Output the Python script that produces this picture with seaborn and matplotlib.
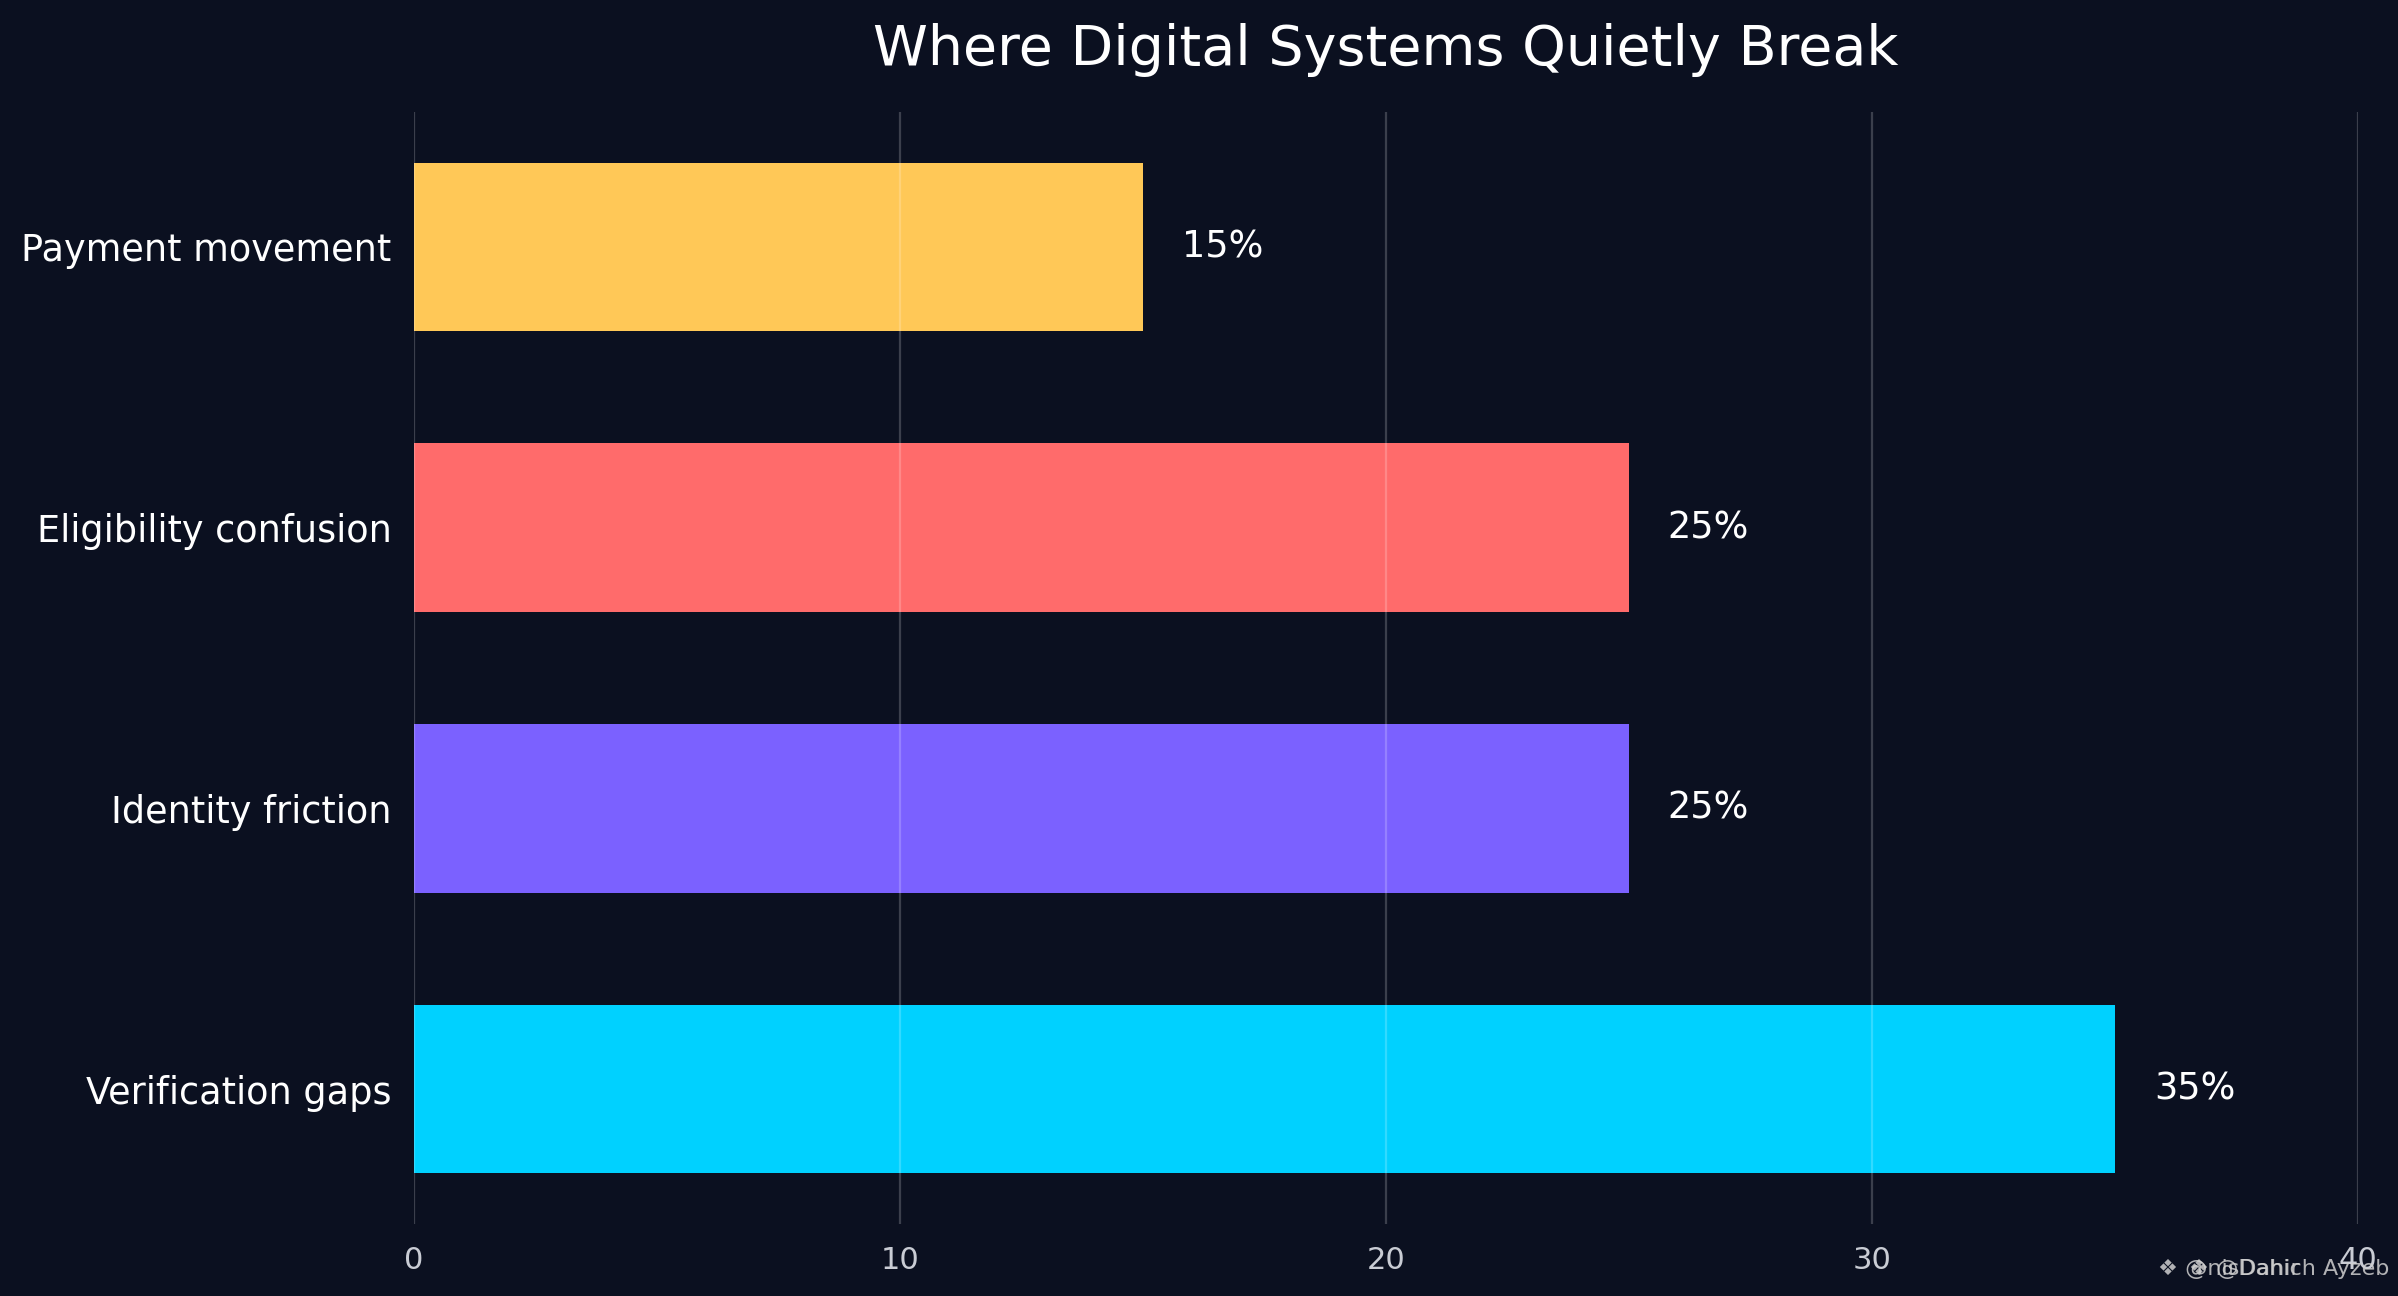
import pandas as pd
import seaborn as sns
import matplotlib.pyplot as plt

categories = ["Payment movement", "Eligibility confusion", "Identity friction", "Verification gaps"]
shares = [15, 25, 25, 35]
colors = ["#FFC857", "#FF6B6B", "#7B61FF", "#00D1FF"]
xticks = [0, 10, 20, 30, 40]

bg = "#0b1020"
df = pd.DataFrame({"category": categories, "share": shares})

sns.set_theme(style="dark")
plt.rcParams["font.family"] = ["DejaVu Sans"]

fig, ax = plt.subplots(figsize=(11.99, 6.48), dpi=200)
fig.patch.set_facecolor(bg)
ax.set_facecolor(bg)
fig.subplots_adjust(left=0.1726, right=0.9833, top=0.9136, bottom=0.0556)

sns.barplot(data=df, x="share", y="category", hue="category", palette=colors,
            order=categories, hue_order=categories, width=0.6, saturation=1,
            linewidth=0, edgecolor="none", legend=False, ax=ax)

for i, v in enumerate(shares):
    ax.text(v + 0.8, i, f"{v}%", va="center", ha="left", color="white", fontsize=13.2)

ax.set_xlim(0, 40)
ax.set_ylim(3.48, -0.48)
ax.set_xticks(xticks)
ax.set_xlabel("")
ax.set_ylabel("")
ax.set_axisbelow(False)
ax.grid(axis="x", color="white", alpha=0.2, linewidth=0.8)
ax.grid(axis="y", visible=False)
for s in ax.spines.values():
    s.set_visible(False)
ax.tick_params(axis="y", colors="white", labelsize=13.2, length=0, pad=8)
ax.tick_params(axis="x", colors="#c9ccd4", labelsize=11, length=0, pad=8)

ax.set_title("Where Digital Systems Quietly Break", color="white", fontsize=20, pad=17)

# overlapping watermark in the corner
fig.text(0.900, 0.021, "❖ @nisDahir", color="#d0d0d0", fontsize=8,
         alpha=0.85, va="center")
fig.text(0.913, 0.021, "❖ @Dahich Ayzeb", color="#d0d0d0", fontsize=8,
         alpha=0.85, va="center")

plt.savefig("out.png", facecolor=bg)
plt.close()
